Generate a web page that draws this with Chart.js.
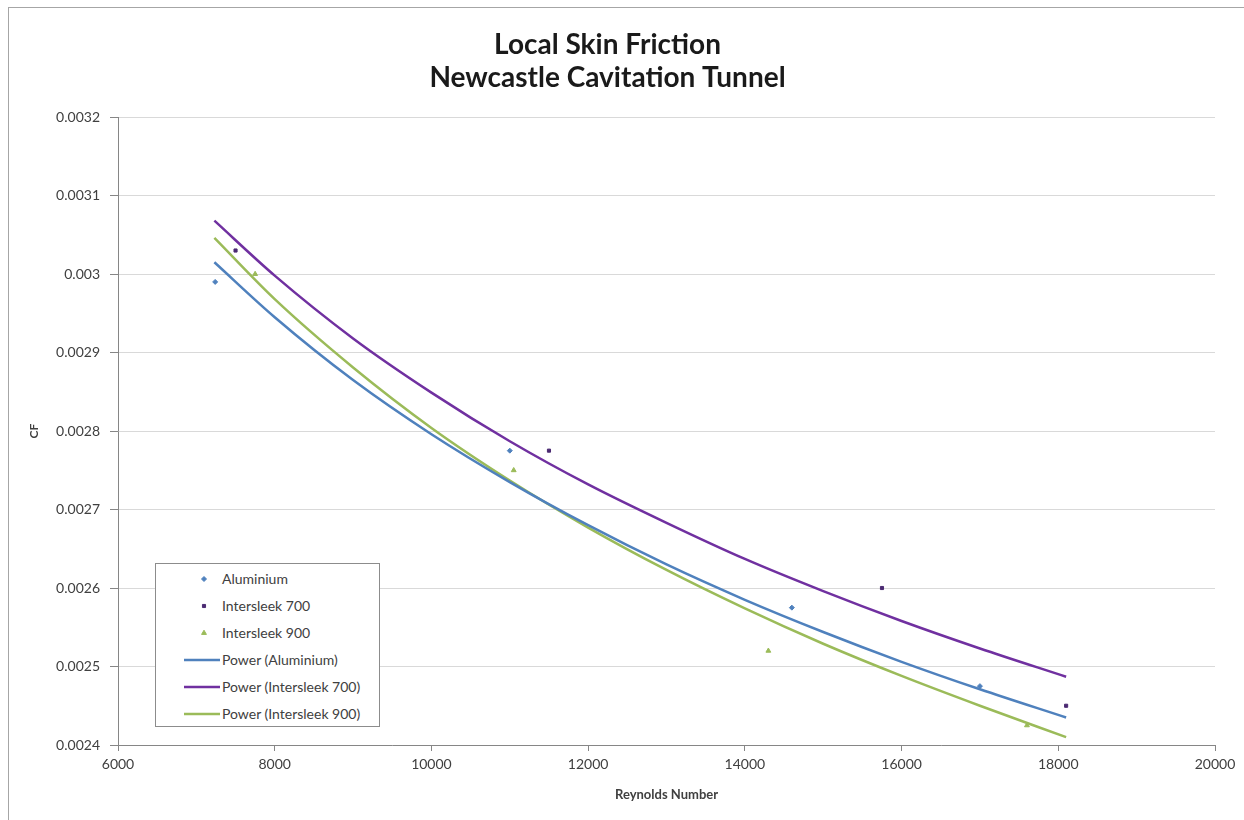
<!DOCTYPE html>
<html>
<head>
<meta charset="utf-8">
<script src="https://cdn.jsdelivr.net/npm/chart.js"></script>
<style>
  body { margin: 0; background: #fff; overflow: hidden; }
  #wrap { position: relative; width: 1244px; height: 820px; }
  #frame { position: absolute; left: 8px; top: 7px; width: 1300px; height: 900px; border: 1px solid #a6a6a6; pointer-events: none; }
  #legend { position: absolute; left: 155px; top: 563px; width: 225px; height: 164px; border: 1px solid #8c8c8c; background: #fff;
    font: 14px Lato, sans-serif; color: #404040; box-sizing: border-box; padding-top: 1px; }
  .row { position: relative; height: 27px; line-height: 27px; padding-left: 66px; white-space: nowrap; }
  .mark { position: absolute; left: 28px; top: 0; width: 40px; height: 27px; }
</style>
</head>
<body>
<div id="wrap">
  <canvas id="chart" width="1244" height="820"></canvas>
  <div id="frame"></div>
  <div id="legend"></div>
</div>
<script>
// measured points (Reynolds number, Cf)
const aluminiumRe = [7240, 11000, 14600, 17000]
const aluminiumCf = [0.00299, 0.002775, 0.002575, 0.002475]
const is700Re = [7500, 11500, 15750, 18100]
const is700Cf = [0.00303, 0.002775, 0.0026, 0.00245]
const is900Re = [7750, 11050, 14300, 17600]
const is900Cf = [0.003, 0.00275, 0.00252, 0.002425]

// power trendlines
const trendRe = [7230, 8000, 9000, 10000, 11000, 12000, 13000, 14000, 15000, 16000, 17000, 18100]
const trendAluminium = [0.003015, 0.002945, 0.002865, 0.002796, 0.002735, 0.00268, 0.00263, 0.002585, 0.002544, 0.002506, 0.002471, 0.002435]
const trend700 = [0.003068, 0.002998, 0.002918, 0.002849, 0.002787, 0.002732, 0.002683, 0.002637, 0.002596, 0.002558, 0.002523, 0.002487]
const trend900 = [0.003046, 0.002968, 0.002881, 0.002804, 0.002737, 0.002677, 0.002623, 0.002574, 0.002529, 0.002488, 0.00245, 0.00241]

const yTicks = [0.0024, 0.0025, 0.0026, 0.0027, 0.0028, 0.0029, 0.003, 0.0031, 0.0032]

const blue = '#4f81bd'
const purple = '#7030a0'
const green = '#9bbb59'

const pts = (xs, ys) => xs.map((x, i) => ({ x: x, y: ys[i] }))

function pointSet (label, xs, ys, color, style, r) {
  return { label: label, data: pts(xs, ys), backgroundColor: color, borderColor: color, pointStyle: style, pointRadius: r, pointHoverRadius: r, showLine: false }
}

function trendSet (label, ys, color) {
  return { label: label, data: pts(trendRe, ys), borderColor: color, backgroundColor: color, borderWidth: 2.5, pointRadius: 0, showLine: true, cubicInterpolationMode: 'monotone' }
}

const datasets = [
  pointSet('Aluminium', aluminiumRe, aluminiumCf, blue, 'rectRot', 2.5),
  pointSet('Intersleek 700', is700Re, is700Cf, '#4b2a72', 'rect', 2.2),
  pointSet('Intersleek 900', is900Re, is900Cf, green, 'triangle', 2.8),
  trendSet('Power (Aluminium)', trendAluminium, blue),
  trendSet('Power (Intersleek 700)', trend700, purple),
  trendSet('Power (Intersleek 900)', trend900, green)
]

const chart = new Chart(document.getElementById('chart').getContext('2d'), {
  type: 'scatter',
  data: { datasets: datasets },
  options: {
    responsive: false,
    animation: false,
    layout: { padding: { left: 0, right: 29, top: 0, bottom: 14 } },
    plugins: {
      legend: { display: false },
      tooltip: { enabled: false },
      title: {
        display: true,
        text: ['Local Skin Friction', 'Newcastle Cavitation Tunnel'],
        color: '#1a1a1a',
        font: { family: 'Lato', size: 28, weight: 'bold', lineHeight: 1.18 },
        padding: { top: 28, bottom: 23 }
      }
    },
    scales: {
      x: {
        type: 'linear',
        min: 6000,
        max: 20000,
        ticks: { stepSize: 2000, color: '#404040', font: { family: 'Lato', size: 14 }, padding: 5, maxRotation: 0, callback: v => String(v) },
        grid: { drawOnChartArea: false, drawTicks: true, tickLength: 6, color: '#868686' },
        border: { color: '#868686' },
        title: { display: true, text: 'Reynolds Number', color: '#404040', font: { family: 'Lato', size: 13, weight: 'bold' }, padding: { top: 4, bottom: 3 } },
        afterFit: s => { s.height = 61 }
      },
      y: {
        type: 'linear',
        min: 0.0024,
        max: 0.0032,
        afterBuildTicks: s => { s.ticks = yTicks.map(v => ({ value: v })) },
        ticks: { color: '#404040', font: { family: 'Lato', size: 14 }, padding: 10, callback: v => String(parseFloat(v.toFixed(4))) },
        grid: { color: '#d9d9d9', tickLength: 8, tickColor: '#868686' },
        border: { color: '#868686' },
        title: { display: true, text: 'CF', color: '#404040', font: { family: 'Lato', size: 12, weight: 'bold' }, padding: { top: 27, bottom: 0 } },
        afterFit: s => { s.width = 118 }
      }
    }
  }
})

// html legend built from the datasets
const legendEl = document.getElementById('legend')
chart.data.datasets.forEach(ds => {
  const row = document.createElement('div')
  row.className = 'row'
  const mark = document.createElement('canvas')
  mark.className = 'mark'
  mark.width = 40
  mark.height = 27
  const c = mark.getContext('2d')
  if (ds.showLine) {
    c.strokeStyle = ds.borderColor
    c.lineWidth = 2.5
    c.beginPath(); c.moveTo(0, 14); c.lineTo(36, 14); c.stroke()
  } else {
    c.fillStyle = ds.backgroundColor
    c.strokeStyle = ds.borderColor
    Chart.helpers.drawPoint(c, { pointStyle: ds.pointStyle, radius: ds.pointRadius, borderWidth: 1 }, 20, 14)
  }
  row.appendChild(mark)
  row.appendChild(document.createTextNode(ds.label))
  legendEl.appendChild(row)
})
</script>
</body>
</html>
